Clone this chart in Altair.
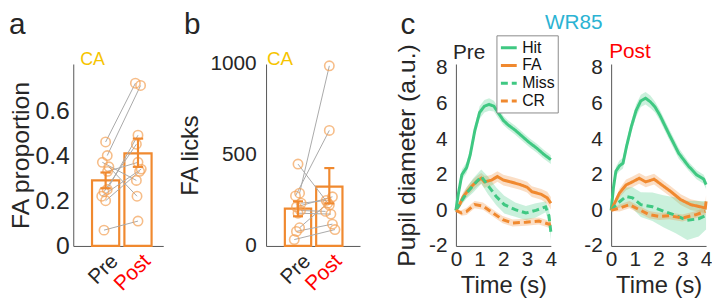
import altair as alt
import pandas as pd

# ---------------- data ----------------
groups = ["Pre", "Post"]

a_pre = [0.46, 0.40, 0.37, 0.35, 0.33, 0.25, 0.24, 0.22, 0.20, 0.07]
a_post = [0.72, 0.71, 0.29, 0.22, 0.37, 0.49, 0.45, 0.34, 0.33, 0.11]
a_jit_pre = [0.00, 0.05, -0.10, 0.10, 0.06, 0.05, -0.05, -0.12, 0.00, -0.05]
a_jit_post = [-0.08, 0.08, -0.05, -0.03, 0.00, 0.00, -0.05, 0.10, 0.05, 0.00]
a_mean = [0.29, 0.41]
a_lo = [0.255, 0.35]
a_hi = [0.325, 0.475]

b_pre = [450, 290, 275, 235, 215, 195, 180, 100, 80, 35]
b_post = [225, 990, 635, 250, 270, 190, 175, 235, 120, 90]
b_jit_pre = [0.00, 0.05, -0.08, 0.10, -0.05, 0.08, 0.00, 0.05, -0.05, -0.12]
b_jit_post = [0.00, 0.00, 0.00, -0.10, 0.10, -0.12, 0.05, -0.05, 0.10, 0.18]
b_mean = [205, 326]
b_lo = [163, 234]
b_hi = [245, 428]

conds = ["Hit", "FA", "Miss", "CR"]

pre_hit_t = [0, 0.1, 0.25, 0.45, 0.6, 0.8, 1.0, 1.2, 1.4, 1.6, 1.8, 2.0, 2.2, 2.5, 2.8, 3.1, 3.4, 3.7, 4.0]
pre_hit_v = [0, 0.9, 2.0, 2.4, 3.1, 4.5, 5.5, 5.85, 5.95, 5.85, 5.45, 5.05, 4.8, 4.5, 4.15, 3.8, 3.5, 3.15, 2.85]
pre_hit_s = [0.1, 0.2, 0.3, 0.3, 0.3, 0.3, 0.35, 0.35, 0.35, 0.3, 0.3, 0.25, 0.25, 0.25, 0.25, 0.25, 0.25, 0.25, 0.25]

pre_fa_t = [0, 0.15, 0.3, 0.5, 0.7, 0.9, 1.07, 1.2, 1.35, 1.5, 1.75, 2.0, 2.3, 2.7, 3.0, 3.2, 3.6, 3.85, 4.0]
pre_fa_v = [0, 0.3, 0.75, 1.1, 1.4, 1.65, 1.8, 1.6, 1.65, 1.7, 1.9, 1.7, 1.6, 1.45, 1.3, 1.05, 0.9, 0.7, 0.4]
pre_fa_s = [0.05, 0.2, 0.25, 0.3, 0.3, 0.3, 0.3, 0.35, 0.3, 0.3, 0.3, 0.3, 0.3, 0.3, 0.3, 0.3, 0.3, 0.35, 0.35]

pre_miss_t = [0, 0.2, 0.45, 0.73, 1.07, 1.35, 1.7, 2.04, 2.5, 2.95, 3.37, 3.78, 3.92, 4.0]
pre_miss_v = [0, 0.45, 0.97, 1.4, 1.9, 1.4, 0.78, 0.32, 0.04, -0.15, 0.0, 0.19, -0.3, -1.2]
pre_miss_s = [0.05, 0.2, 0.3, 0.4, 0.4, 0.5, 0.5, 0.5, 0.4, 0.4, 0.4, 0.3, 0.4, 0.5]

pre_cr_t = [0, 0.23, 0.45, 0.79, 1.14, 1.56, 1.97, 2.39, 2.95, 3.5, 3.92, 4.0]
pre_cr_v = [0, -0.15, -0.06, 0.32, 0.24, -0.15, -0.52, -0.71, -0.67, -0.6, -0.78, -0.75]
pre_cr_s = [0.05, 0.15, 0.2, 0.2, 0.2, 0.2, 0.2, 0.2, 0.2, 0.2, 0.2, 0.2]

post_hit_t = [0, 0.1, 0.2, 0.35, 0.5, 0.65, 0.85, 1.05, 1.25, 1.45, 1.65, 1.85, 2.05, 2.45, 2.85, 3.25, 3.6, 3.9, 4.0]
post_hit_v = [0, 1.3, 2.2, 2.5, 2.65, 3.6, 4.7, 5.6, 6.15, 6.3, 6.1, 5.8, 5.35, 4.25, 3.2, 2.5, 2.0, 1.75, 1.45]
post_hit_s = [0.1, 0.2, 0.25, 0.3, 0.3, 0.3, 0.3, 0.35, 0.35, 0.35, 0.35, 0.3, 0.3, 0.3, 0.3, 0.25, 0.25, 0.25, 0.25]

post_fa_t = [0, 0.35, 0.63, 0.9, 1.18, 1.46, 1.81, 2.16, 2.51, 2.93, 3.35, 3.69, 3.97, 4.0]
post_fa_v = [0, 0.97, 1.43, 1.6, 1.8, 1.6, 1.75, 1.4, 1.06, 0.6, 0.32, 0.22, 0.13, 0.5]
post_fa_s = [0.05, 0.25, 0.3, 0.3, 0.3, 0.3, 0.3, 0.3, 0.3, 0.3, 0.3, 0.3, 0.3, 0.35]

post_miss_t = [0, 0.28, 0.63, 0.9, 1.25, 1.74, 2.2, 2.72, 3.21, 3.69, 4.0]
post_miss_v = [0, 0.4, 0.78, 0.7, 0.32, 0.2, -0.05, -0.28, -0.56, -0.47, -0.28]
post_miss_s = [0.05, 0.3, 0.5, 0.6, 0.7, 0.8, 0.9, 1.0, 1.1, 1.0, 0.8]

post_cr_t = [0, 0.35, 0.77, 1.18, 1.6, 2.02, 2.44, 3.0, 3.55, 3.97]
post_cr_v = [0, 0.13, 0.32, 0.04, -0.24, -0.34, -0.3, -0.43, -0.25, -0.06]
post_cr_s = [0.05, 0.2, 0.2, 0.2, 0.2, 0.2, 0.2, 0.2, 0.2, 0.2]

a_ticks = [0, 0.2, 0.4, 0.6]
b_ticks = [0, 500, 1000]
c_yticks = [-2, 0, 2, 4, 6, 8]
c_xticks = [0, 1, 2, 3, 4]

# ---------------- styles ----------------
FONT = "Liberation Sans"
INK = "#262626"
AXC = "#555555"
ORANGE = "#F0892F"
OR_PT = "#F4A257"
GREEN = "#3FC882"
GOLD = "#F6C400"
RED = "#FF0000"
TEAL = "#2BB3D3"
H = 184
LETTER_FS = 30
LETTER_Y = -30.5


def paired_df(pre, post, jp, jq):
    rows = []
    for i, (p, q) in enumerate(zip(pre, post)):
        rows.append({"pair": i, "x": 1 + jp[i], "v": p})
        rows.append({"pair": i, "x": 2 + jq[i], "v": q})
    return pd.DataFrame(rows)


def bar_df(m, lo, hi):
    return pd.DataFrame({"x": [1, 2], "m": m, "lo": lo, "hi": hi})


def label(txt, x, y, size, color=INK, align="left"):
    return alt.Chart(pd.DataFrame({"t": [txt]})).mark_text(
        font=FONT, fontSize=size, color=color, align=align, baseline="alphabetic"
    ).encode(text="t:N", x=alt.value(x), y=alt.value(y))


def bar_panel(pre, post, jp, jq, m, lo, hi, xdom, ydom, yticks, yfmt, width,
              ytitle, tick_fs, title_fs, lab_pad, title_pad, letter, letter_x, ca_x, ca_fs):
    pts = paired_df(pre, post, jp, jq)
    bars = bar_df(m, lo, hi)
    xenc = alt.X("x0:Q", scale=alt.Scale(domain=xdom, nice=False, zero=False),
                 axis=alt.Axis(values=[1, 2], title=None, ticks=False,
                               labelExpr=f"datum.value == 1 ? '{groups[0]}' : '{groups[1]}'",
                               labelAngle=-45, labelAlign="right", labelBaseline="middle",
                               labelFontSize=21, labelPadding=12, labelOffset=9,
                               labelOverlap=False, labelFlush=False,
                               labelColor=alt.ExprRef(f"datum.value == 2 ? '{RED}' : '{INK}'")))
    yscale = alt.Scale(domain=ydom, nice=False, zero=False)
    yaxis = alt.Axis(values=yticks, format=yfmt, title=ytitle, ticks=False,
                     labelFontSize=tick_fs, labelPadding=lab_pad, labelOverlap=False,
                     labelFlush=False, titleFontSize=title_fs, titlePadding=title_pad)
    base_b = alt.Chart(bars).transform_calculate(
        x0="datum.x - 0.42", x1="datum.x + 0.42", c0="datum.x - 0.16", c1="datum.x + 0.16")
    rect = base_b.mark_rect(filled=False, color=ORANGE, strokeWidth=2.2).encode(
        x=xenc, x2="x1:Q", y=alt.Y("m:Q", scale=yscale, axis=yaxis), y2=alt.datum(0))
    lines = alt.Chart(pts).mark_line(color="#A9A9A9", strokeWidth=1).encode(
        x="x:Q", y="v:Q", detail="pair:N")
    dots = alt.Chart(pts).mark_point(shape="circle", filled=False, size=90,
                                     strokeWidth=1.6, color=OR_PT).encode(x="x:Q", y="v:Q")
    err = base_b.mark_rule(color=ORANGE, strokeWidth=2.2).encode(x="x:Q", y="lo:Q", y2="hi:Q")
    cap_lo = base_b.mark_rule(color=ORANGE, strokeWidth=2.2).encode(x="c0:Q", x2="c1:Q", y="lo:Q")
    cap_hi = base_b.mark_rule(color=ORANGE, strokeWidth=2.2).encode(x="c0:Q", x2="c1:Q", y="hi:Q")
    txt_letter = label(letter, letter_x, LETTER_Y, LETTER_FS)
    txt_ca = label("CA", ca_x, 1, ca_fs, GOLD)
    return alt.layer(rect, lines, dots, err, cap_lo, cap_hi, txt_letter, txt_ca).properties(
        width=width, height=H)


def trace_df(series):
    rows = []
    for cond, ts, vs, ss in series:
        for t, v, s in zip(ts, vs, ss):
            rows.append({"cond": cond, "t": t, "v": v, "lo": v - s, "hi": v + s})
    return pd.DataFrame(rows)


palette = [GREEN, ORANGE, GREEN, ORANGE]
cscale = alt.Scale(domain=conds, range=palette)
dscale = alt.Scale(domain=conds, range=[[1, 0], [1, 0], [7, 4], [7, 4]])
band_keys = [c + " band" for c in conds]
fscale = alt.Scale(domain=band_keys, range=palette)

leg = alt.Legend(title=None, orient="none", legendX=41, legendY=-29,
                 symbolType="stroke", symbolSize=256, symbolStrokeWidth=3,
                 labelFontSize=16, labelFont=FONT, labelColor="#111",
                 strokeColor="#8A8A8A", fillColor="white", padding=3,
                 rowPadding=0, labelOffset=4)


def trace_panel(series, show_title, show_legend, extra):
    df = trace_df(series)
    xaxis = alt.Axis(values=c_xticks, title="Time (s)", ticks=False,
                     labelFontSize=21, labelPadding=3, titleFontSize=24,
                     titlePadding=4, labelFlush=False, labelOverlap=False)
    yaxis = alt.Axis(values=c_yticks, ticks=False, labelFontSize=21, labelPadding=9,
                     labelOverlap=False, labelFlush=False,
                     labelExpr="datum.value < 0 ? '-' + abs(datum.value) : '' + datum.value",
                     title="Pupil diameter (a.u.)" if show_title else None,
                     titleFontSize=25, titlePadding=9)
    xs = alt.Scale(domain=[0, 4], nice=False)
    ys = alt.Scale(domain=[-2, 8.22], nice=False, zero=False)
    band = alt.Chart(df).transform_calculate(bkey="datum.cond + ' band'").mark_area(
        opacity=0.28).encode(
        x=alt.X("t:Q", scale=xs, axis=xaxis), y=alt.Y("lo:Q", scale=ys, axis=yaxis), y2="hi:Q",
        fill=alt.Fill("bkey:N", scale=fscale, legend=None), detail="cond:N")
    lg = leg if show_legend else None
    line = alt.Chart(df).mark_line(strokeWidth=3).encode(
        x=alt.X("t:Q", scale=xs, axis=xaxis), y=alt.Y("v:Q", scale=ys, axis=yaxis),
        color=alt.Color("cond:N", scale=cscale, legend=lg),
        strokeDash=alt.StrokeDash("cond:N", scale=dscale, legend=lg))
    return alt.layer(band, line, *extra).properties(width=96, height=H)


pre_series = [("Hit", pre_hit_t, pre_hit_v, pre_hit_s), ("FA", pre_fa_t, pre_fa_v, pre_fa_s),
              ("Miss", pre_miss_t, pre_miss_v, pre_miss_s), ("CR", pre_cr_t, pre_cr_v, pre_cr_s)]
post_series = [("Hit", post_hit_t, post_hit_v, post_hit_s), ("FA", post_fa_t, post_fa_v, post_fa_s),
               ("Miss", post_miss_t, post_miss_v, post_miss_s), ("CR", post_cr_t, post_cr_v, post_cr_s)]

panel_a = bar_panel(a_pre, a_post, a_jit_pre, a_jit_post, a_mean, a_lo, a_hi,
                    [0, 2.78], [0, 0.805], a_ticks, "~g", 91, "FA proportion",
                    25, 25, 4, 2, "a", -65, 7, 18)
panel_b = bar_panel(b_pre, b_post, b_jit_pre, b_jit_post, b_mean, b_lo, b_hi,
                    [-0.02, 2.98], [0, 1000], b_ticks, "d", 95, "FA licks",
                    21, 24, 10, 8, "b", -83, 1, 19)
panel_pre = trace_panel(pre_series, True, True,
                        [label("c", -56, LETTER_Y, LETTER_FS), label("Pre", -3, -5, 21)])
panel_post = trace_panel(post_series, False, False,
                         [label("Post", -2, -6, 21, RED), label("WR85", -67, -35, 21, TEAL)])


def spacer(w):
    return alt.Chart(pd.DataFrame({"s": [0]})).mark_point(opacity=0).encode(
        x=alt.value(0), y=alt.value(0)).properties(width=w, height=H)


chart = alt.hconcat(panel_a, spacer(104), panel_b, spacer(97), panel_pre, spacer(61), panel_post,
                    spacing=0, bounds="flush").resolve_scale(
    color="independent", strokeDash="independent", fill="independent"
).properties(padding=0).configure_view(stroke=None).configure_axis(
    grid=False, domainColor=AXC, domainWidth=1, labelColor=INK, titleColor=INK,
    labelFont=FONT, titleFont=FONT, titleFontWeight="normal"
)

chart.save("out.html", embed_options={"renderer": "svg", "actions": False})
